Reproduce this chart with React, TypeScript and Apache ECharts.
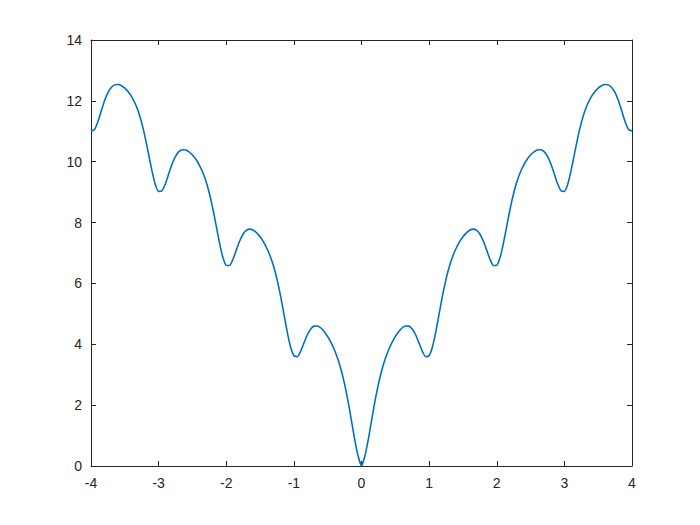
import React, { useEffect, useRef } from "react";
import * as echarts from "echarts";

// x from -4 to 4 in steps of 0.05
const xStart = -4;
const xStep = 0.05;

const yValues: number[] = [
  11.013, 11.053, 11.305, 11.658, 12.003, 12.271, 12.442, 12.525, 12.538, 12.499,
  12.418, 12.300, 12.141, 11.929, 11.647, 11.277, 10.810, 10.266, 9.714, 9.263,
  9.024, 9.043, 9.275, 9.607, 9.932, 10.179, 10.329, 10.391, 10.383, 10.322,
  10.219, 10.079, 9.897, 9.663, 9.358, 8.965, 8.475, 7.908, 7.332, 6.857,
  6.594, 6.589, 6.796, 7.103, 7.402, 7.624, 7.749, 7.785, 7.750, 7.663,
  7.534, 7.367, 7.157, 6.895, 6.563, 6.142, 5.623, 5.027, 4.423, 3.918,
  3.625, 3.591, 3.768, 4.045, 4.313, 4.504, 4.597, 4.601, 4.535, 4.415,
  4.253, 4.053, 3.811, 3.515, 3.149, 2.693, 2.140, 1.509, 0.869, 0.329,
  0,
  0.329, 0.869, 1.509, 2.140, 2.693, 3.149, 3.515, 3.811, 4.053, 4.253,
  4.415, 4.535, 4.601, 4.597, 4.504, 4.313, 4.045, 3.768, 3.591, 3.625,
  3.918, 4.423, 5.027, 5.623, 6.142, 6.563, 6.895, 7.157, 7.367, 7.534,
  7.663, 7.750, 7.785, 7.749, 7.624, 7.402, 7.103, 6.796, 6.589, 6.594,
  6.857, 7.332, 7.908, 8.475, 8.965, 9.358, 9.663, 9.897, 10.079, 10.219,
  10.322, 10.383, 10.391, 10.329, 10.179, 9.932, 9.607, 9.275, 9.043, 9.024,
  9.263, 9.714, 10.266, 10.810, 11.277, 11.647, 11.929, 12.141, 12.300, 12.418,
  12.499, 12.538, 12.525, 12.442, 12.271, 12.003, 11.658, 11.305, 11.053, 11.013,
];

const xTicks = { min: -4, max: 4, interval: 1 };
const yTicks = { min: 0, max: 14, interval: 2 };

export default function App() {
  const ref = useRef<HTMLDivElement>(null);

  useEffect(() => {
    if (!ref.current) return;
    const chart = echarts.init(ref.current, undefined, { renderer: "svg" });
    const axisColor = "#262626";
    const font = "'Liberation Sans', Arial, Helvetica, sans-serif";
    const data = yValues.map((y, i) => [+(xStart + i * xStep).toFixed(2), y]);

    const baseX = {
      type: "value" as const,
      min: xTicks.min,
      max: xTicks.max,
      interval: xTicks.interval,
      splitLine: { show: false },
      axisLine: { show: true, onZero: false, lineStyle: { color: axisColor, width: 1 } },
      axisTick: { show: true, inside: true, length: 5, lineStyle: { color: axisColor } },
    };
    const baseY = {
      type: "value" as const,
      min: yTicks.min,
      max: yTicks.max,
      interval: yTicks.interval,
      splitLine: { show: false },
      axisLine: { show: true, onZero: false, lineStyle: { color: axisColor, width: 1 } },
      axisTick: { show: true, inside: true, length: 5, lineStyle: { color: axisColor } },
    };

    chart.setOption({
      animation: false,
      backgroundColor: "#ffffff",
      grid: { left: 91, right: 68, top: 40, bottom: 59, containLabel: false },
      xAxis: [
        {
          ...baseX,
          position: "bottom",
          axisLabel: { color: axisColor, fontSize: 14, fontFamily: font, margin: 10 },
        },
        { ...baseX, position: "top", axisLabel: { show: false } },
      ],
      yAxis: [
        {
          ...baseY,
          position: "left",
          axisLabel: { color: axisColor, fontSize: 14, fontFamily: font, margin: 9 },
        },
        { ...baseY, position: "right", axisLabel: { show: false } },
      ],
      series: [
        {
          type: "line",
          data,
          xAxisIndex: 0,
          yAxisIndex: 0,
          showSymbol: false,
          symbol: "none",
          smooth: 0.15,
          clip: false,
          lineStyle: { color: "#0072BD", width: 1.6 },
        },
      ],
    });
    return () => chart.dispose();
  }, []);

  return (
    <div
      ref={ref}
      style={{ position: "absolute", left: 0, top: 0, width: 700, height: 525 }}
    />
  );
}
